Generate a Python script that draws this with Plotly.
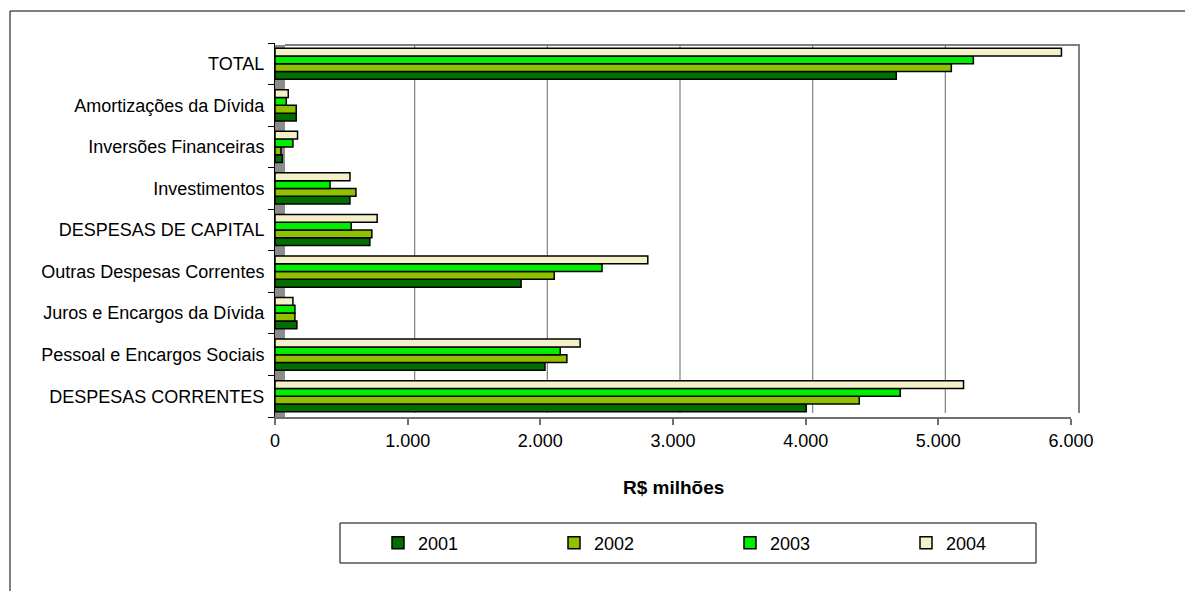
import plotly.graph_objects as go

categories = [
    "DESPESAS CORRENTES",
    "Pessoal e Encargos Sociais",
    "Juros e Encargos da Dívida",
    "Outras Despesas Correntes",
    "DESPESAS DE CAPITAL",
    "Investimentos",
    "Inversões Financeiras",
    "Amortizações da Dívida",
    "TOTAL",
]

v2001 = [4004, 2035, 165, 1855, 715, 565, 55, 160, 4683]
v2002 = [4404, 2200, 150, 2105, 730, 610, 45, 160, 5098]
v2003 = [4713, 2150, 150, 2465, 575, 415, 135, 85, 5264]
v2004 = [5190, 2300, 135, 2810, 770, 565, 170, 100, 5928]

years = ["2001", "2002", "2003", "2004"]
series = [v2001, v2002, v2003, v2004]
colors = ["#006e00", "#90c000", "#00ee00", "#f4f0c8"]

tick_vals = [0, 1000, 2000, 3000, 4000, 5000, 6000]
tick_text = ["0", "1.000", "2.000", "3.000", "4.000", "5.000", "6.000"]

FONT = "Liberation Sans, Arial, sans-serif"

fig = go.Figure()
for name, vals, col in zip(years, series, colors):
    fig.add_trace(go.Bar(
        y=categories, x=vals, name=name, orientation="h",
        marker=dict(color=col, line=dict(color="#000000", width=1.5)),
    ))

# plot area geometry in pixels (for decorative frame placement)
L, R, T, B = 275, 1071, 43, 417
W, H = R - L, B - T
def px(x):
    return (x - L) / W
def py(y):
    return (B - y) / H

# depth of the 3-D back wall, expressed in axis units
DEPTH = 7 * (tick_vals[-1] - tick_vals[0]) / W

shapes = [
    # outer chart border
    dict(type="rect", xref="paper", yref="paper",
         x0=px(10), x1=px(1200), y0=py(600), y1=py(11),
         line=dict(color="#000000", width=1), fillcolor="rgba(0,0,0,0)", layer="below"),
    # side wall of the 3-D plot
    dict(type="rect", xref="paper", yref="paper",
         x0=0, x1=px(285), y0=0, y1=py(45),
         line=dict(width=0), fillcolor="#8c8c8c", layer="below"),
    # back wall frame
    dict(type="path", xref="paper", yref="paper",
         path=f"M {px(285)},{py(45)} L {px(1079)},{py(45)} L {px(1079)},{py(413)}",
         line=dict(color="#808080", width=2), layer="below"),
    # legend box
    dict(type="rect", xref="paper", yref="paper",
         x0=px(340), x1=px(1036), y0=py(563), y1=py(523),
         line=dict(color="#000000", width=1), fillcolor="rgba(0,0,0,0)"),
]
# gridlines on the back wall, shifted by the wall depth
for v in tick_vals[1:-1]:
    shapes.append(dict(type="line", xref="x", yref="paper",
                       x0=v + DEPTH, x1=v + DEPTH, y0=py(413), y1=py(45),
                       line=dict(color="#808080", width=1.2), layer="below"))

fig.update_layout(
    width=1185, height=591,
    margin=dict(l=L, r=1185 - R, t=T, b=591 - B),
    paper_bgcolor="white", plot_bgcolor="rgba(0,0,0,0)",
    barmode="group", bargap=0.25, bargroupgap=0.0,
    font=dict(family=FONT, size=18, color="#000000"),
    showlegend=True,
    legend=dict(
        orientation="h", x=px(378), y=py(543), xanchor="left", yanchor="middle",
        traceorder="normal", entrywidth=131, entrywidthmode="pixels",
        itemwidth=30, font=dict(size=18), bgcolor="rgba(0,0,0,0)", borderwidth=0,
    ),
    xaxis=dict(
        range=[0, 6000], tickvals=tick_vals, ticktext=tick_text,
        showgrid=False,
        showline=True, linecolor="#707070", linewidth=2,
        ticks="outside", ticklen=6, tickcolor="#707070", tickwidth=2,
        zeroline=False, tickfont=dict(size=18),
    ),
    yaxis=dict(
        type="category", categoryorder="array", categoryarray=categories,
        showline=True, linecolor="#000000", linewidth=1,
        ticks="outside", ticklen=6, tickcolor="#000000", tickson="boundaries",
        showgrid=False, tickfont=dict(size=18), ticklabelstandoff=6,
    ),
    shapes=shapes,
    annotations=[dict(
        text="<b>R$ milhões</b>", xref="paper", yref="paper",
        x=px(673), y=py(487), xanchor="center", yanchor="middle",
        showarrow=False, font=dict(size=19),
    )],
)

fig.write_html("out.html")
